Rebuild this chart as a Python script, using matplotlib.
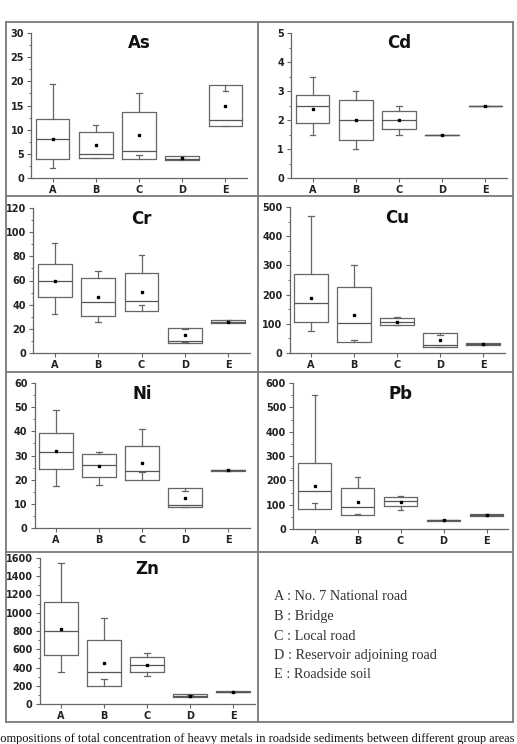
import matplotlib
matplotlib.use('Agg')
import matplotlib.pyplot as plt
from matplotlib.ticker import MultipleLocator, AutoMinorLocator

W, H = 517, 744

groups = ['A', 'B', 'C', 'D', 'E']
# columns per group: whisker low, Q1, median, Q3, whisker high, mean
as_stats = [[2.0, 4.0, 8.0, 12.2, 19.5, 8.0],
            [4.2, 4.2, 5.0, 9.5, 11.0, 6.8],
            [4.8, 4.0, 5.5, 13.7, 17.5, 8.8],
            [3.9, 3.8, 4.0, 4.6, 4.5, 4.2],
            [10.8, 10.8, 12.0, 19.2, 18.0, 15.0]]
cd_stats = [[1.5, 1.9, 2.5, 2.85, 3.5, 2.37],
            [1.0, 1.3, 2.0, 2.7, 3.0, 2.0],
            [1.5, 1.68, 2.0, 2.3, 2.5, 2.0],
            [1.5, 1.5, 1.5, 1.5, 1.5, 1.5],
            [2.5, 2.5, 2.5, 2.5, 2.5, 2.5]]
cr_stats = [[32, 46, 59.5, 73.5, 91, 60],
            [26, 30.5, 42.5, 62, 68, 46],
            [40, 35, 43, 66, 81.5, 50.5],
            [9, 8.5, 10, 21, 19.5, 14.5],
            [25.5, 25, 26, 27.5, 27, 26]]
cu_stats = [[75, 105, 172, 270, 470, 187],
            [43, 37, 102, 225, 303, 130],
            [95, 96, 105, 120, 125, 107],
            [22, 20, 28, 70, 63, 45],
            [29, 28, 30, 34, 32, 30]]
ni_stats = [[17.5, 24.5, 31.5, 39.5, 49, 32],
            [18, 21, 26, 30.5, 31.5, 25.5],
            [23, 20, 23.5, 34, 41, 26.8],
            [8.5, 8.5, 9.5, 16.5, 15.5, 12.5],
            [23.5, 23.5, 23.8, 24, 24, 23.8]]
pb_stats = [[105, 83, 158, 270, 550, 177],
            [62, 57, 90, 167, 213, 110],
            [80, 93, 115, 133, 137, 110],
            [35, 34, 35, 36, 35, 35],
            [54, 52, 57, 62, 60, 57]]
zn_stats = [[350, 535, 805, 1120, 1545, 825],
            [270, 200, 350, 700, 940, 450],
            [310, 350, 430, 520, 555, 430],
            [80, 75, 85, 105, 100, 90],
            [135, 133, 135, 137, 136, 135]]

legend_lines = ['A : No. 7 National road', 'B : Bridge', 'C : Local road',
                'D : Reservoir adjoining road', 'E : Roadside soil']
caption = ('Compositions of total concentration of heavy metals in roadside '
           'sediments between different group areas (')

fig = plt.figure(figsize=(W / 100, H / 100), dpi=100)

bg = fig.add_axes([0, 0, 1, 1], zorder=-5)
bg.set_xlim(0, W)
bg.set_ylim(H, 0)
bg.axis('off')

# table frame
gc = '#7a7a7a'
glw = 1.3
for x in (6, 258, 513):
    bg.plot([x, x], [22, 722], color=gc, lw=glw)
for y in (22, 196, 372, 552, 722):
    bg.plot([6, 513], [y, y], color=gc, lw=glw)

LC = '#666666'
TF = 'DejaVu Sans'


def panel(name, stats, ymax, major, box):
    left, right, top, bottom = box
    ax = fig.add_axes([left / W, 1 - bottom / H, (right - left) / W, (bottom - top) / H])
    bs = [dict(whislo=s[0], q1=s[1], med=s[2], q3=s[3], whishi=s[4], mean=s[5],
               fliers=[], label=g) for s, g in zip(stats, groups)]
    ax.bxp(bs, positions=range(1, 6), widths=0.78, showmeans=True, capwidths=0.12,
           boxprops=dict(color=LC, lw=0.9),
           whiskerprops=dict(color=LC, lw=0.9),
           capprops=dict(color=LC, lw=0.9),
           medianprops=dict(color='#555555', lw=0.9),
           meanprops=dict(marker='s', markersize=2, markerfacecolor='k',
                          markeredgecolor='k'),
           manage_ticks=False)
    ax.set_xlim(0.5, 5.5)
    ax.set_ylim(0, ymax)
    ax.set_xticks(range(1, 6))
    ax.set_xticklabels(groups)
    ax.yaxis.set_major_locator(MultipleLocator(major))
    ax.yaxis.set_minor_locator(AutoMinorLocator(2))
    for s in ('top', 'right'):
        ax.spines[s].set_visible(False)
    for s in ('left', 'bottom'):
        ax.spines[s].set_color(LC)
        ax.spines[s].set_linewidth(0.9)
    ax.tick_params(which='major', length=3, width=0.8, color=LC, labelsize=7,
                   labelcolor='#222222', pad=2)
    ax.tick_params(which='minor', length=1.8, width=0.7, color=LC)
    for lab in ax.get_xticklabels() + ax.get_yticklabels():
        lab.set_fontweight('bold')
        lab.set_family(TF)
    hpx = bottom - top
    ax.text(0.5, 1 - 10.5 / hpx, name, transform=ax.transAxes, ha='center',
            va='center', fontsize=12, fontweight='bold', family=TF,
            color='#111111')
    ax.patch.set_alpha(0)
    return ax


panel('As', as_stats, 30, 5, (31, 247, 33, 178))
panel('Cd', cd_stats, 5, 1, (291, 507, 33, 178))
panel('Cr', cr_stats, 120, 20, (33, 250, 208, 353))
panel('Cu', cu_stats, 500, 100, (289.5, 504.5, 207, 353))
panel('Ni', ni_stats, 60, 10, (34.5, 249.5, 383, 528))
panel('Pb', pb_stats, 600, 100, (293, 508, 383, 529))
panel('Zn', zn_stats, 1600, 200, (39.5, 254.5, 558, 704))

for i, t in enumerate(legend_lines):
    bg.text(274, 597 + i * 19.5, t, family='Liberation Serif', fontsize=10.3,
            va='center', ha='left', color='#333333')

bg.text(-8, 739, caption, family='Liberation Serif', fontsize=8.9,
        va='center', ha='left', color='#111111')

fig.savefig('out.png', dpi=100)
